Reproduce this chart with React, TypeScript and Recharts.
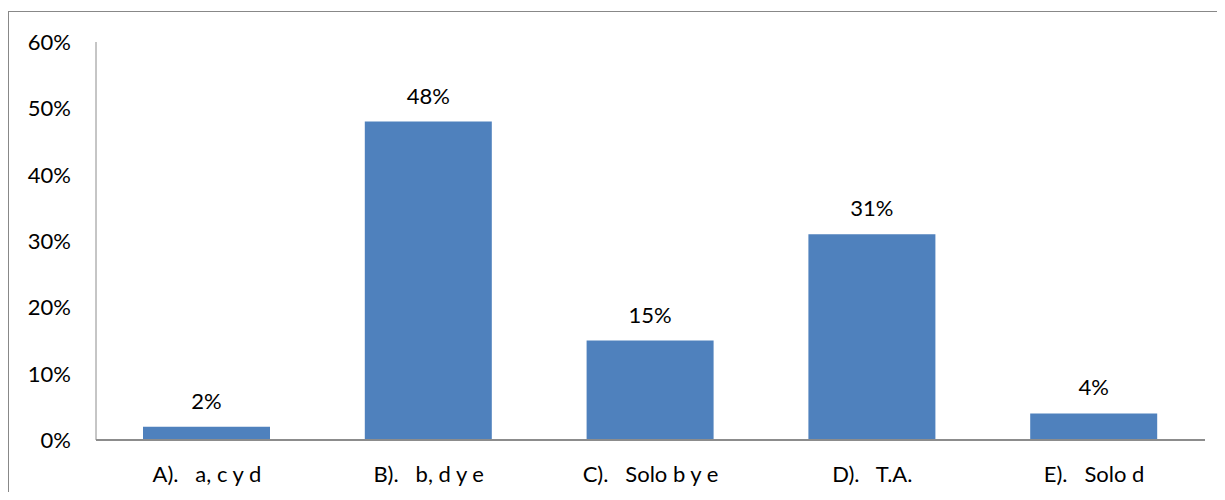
import { BarChart, Bar, XAxis, YAxis, LabelList } from 'recharts';

const categories = ['A).   a, c y d', 'B).   b, d y e', 'C).   Solo b y e', 'D).   T.A.', 'E).   Solo d'];
const percentages = [2, 48, 15, 31, 4];
const yTicks = [0, 10, 20, 30, 40, 50, 60];

const data = categories.map((name, i) => ({ name, value: percentages[i] }));

const FONT = 'Lato, "Open Sans", sans-serif';

// category labels keep their multiple spaces
function CategoryTick({ x, y, payload }: any) {
  return (
    <text
      x={x}
      y={y + 42}
      textAnchor="middle"
      fill="#000"
      fontSize={22}
      fontFamily={FONT}
      style={{ whiteSpace: 'pre' }}
    >
      {payload.value}
    </text>
  );
}

function PercentTick({ x, y, payload }: any) {
  return (
    <text x={x - 25} y={y + 8} textAnchor="end" fill="#000" fontSize={22} fontFamily={FONT}>
      {`${payload.value}%`}
    </text>
  );
}

export default function App() {
  return (
    <div style={{ position: 'relative', width: 1225, height: 500, overflow: 'hidden', margin: -8, background: '#fff' }}>
      <div
        style={{
          position: 'absolute',
          left: 8,
          top: 11,
          width: 1260,
          height: 520,
          border: '1.5px solid #888',
        }}
      />
      <div style={{ position: 'absolute', left: 0, top: 0 }}>
        <BarChart width={1225} height={500} data={data} margin={{ top: 42, right: 20, left: 0, bottom: 0 }}>
          <XAxis
            dataKey="name"
            height={60}
            tickLine={false}
            tickSize={0}
            tickMargin={0}
            axisLine={{ stroke: '#8c8c8c', strokeWidth: 2 }}
            tick={<CategoryTick />}
            interval={0}
          />
          <YAxis
            width={96}
            domain={[0, 60]}
            ticks={yTicks}
            tickLine={false}
            tickSize={0}
            tickMargin={0}
            axisLine={{ stroke: '#8c8c8c', strokeWidth: 1 }}
            tick={<PercentTick />}
            interval={0}
          />
          <Bar dataKey="value" fill="#4F81BD" barSize={127} isAnimationActive={false}>
            <LabelList
              dataKey="value"
              position="top"
              offset={18}
              formatter={(v: any) => `${v}%`}
              style={{ fontSize: 22, fontFamily: FONT, fill: '#000' }}
            />
          </Bar>
        </BarChart>
      </div>
    </div>
  );
}
